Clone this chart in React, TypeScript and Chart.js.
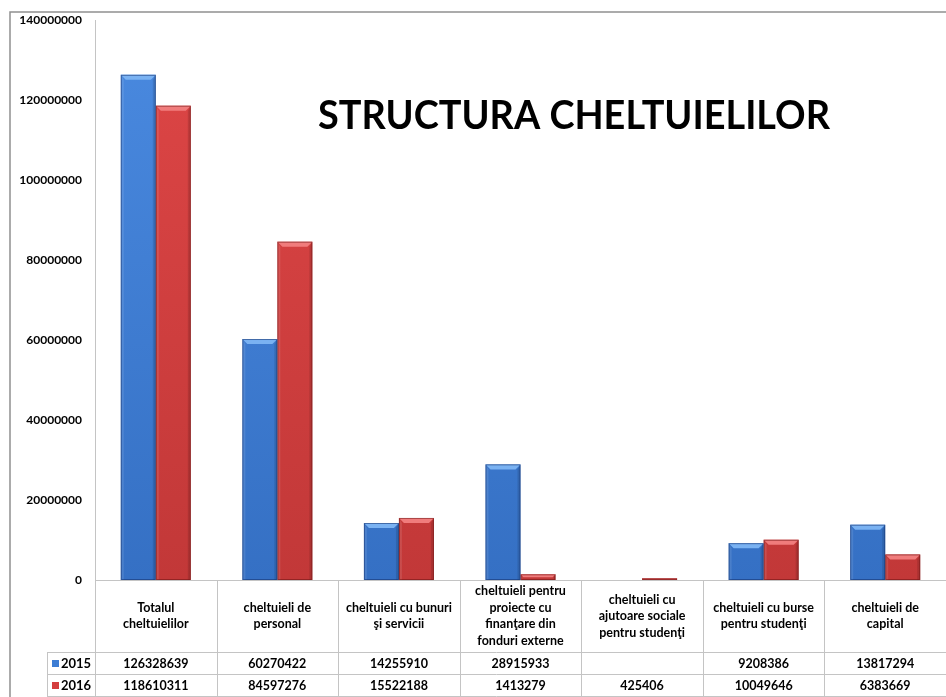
import React, { useEffect, useRef } from "react";
import { Chart, registerables } from "chart.js";

Chart.register(...registerables);

const titleText = "STRUCTURA CHELTUIELILOR";
const seriesNames = ["2015", "2016"];
const categoryLines: string[][] = [
  ["Totalul", "cheltuielilor"],
  ["cheltuieli de", "personal"],
  ["cheltuieli cu bunuri", "şi servicii"],
  ["cheltuieli pentru", "proiecte cu", "finanţare din", "fonduri externe"],
  ["cheltuieli cu", "ajutoare sociale", "pentru studenţi"],
  ["cheltuieli cu burse", "pentru studenţi"],
  ["cheltuieli de", "capital"],
];
const categories = categoryLines.map((l) => l.join(" "));
const values2015: (number | null)[] = [126328639, 60270422, 14255910, 28915933, null, 9208386, 13817294];
const values2016: (number | null)[] = [118610311, 84597276, 15522188, 1413279, 425406, 10049646, 6383669];
const yMax = 140000000;
const yStep = 20000000;

const FONT = "Lato, 'Open Sans', sans-serif";
const colors = [
  { top: "#4a8ae0", bottom: "#3570c4", bevel: "#7ab2f2", edge: "rgba(20,50,110,0.55)", swatch: "#3d7dd4" },
  { top: "#de4646", bottom: "#c23838", bevel: "#f07c7c", edge: "rgba(110,20,20,0.55)", swatch: "#d43e3e" },
];

const bevelPlugin = {
  id: "bevel",
  afterDatasetsDraw(chart: any) {
    const ctx = chart.ctx;
    chart.data.datasets.forEach((ds: any, di: number) => {
      const meta = chart.getDatasetMeta(di);
      const c = colors[di];
      meta.data.forEach((el: any, i: number) => {
        const v = ds.data[i];
        if (v == null) return;
        const p = el.getProps(["x", "y", "base", "width"], true);
        const left = p.x - p.width / 2;
        const right = p.x + p.width / 2;
        const top = p.y;
        const bottom = p.base;
        const h = bottom - top;
        const b = Math.min(5, h / 2);
        ctx.save();
        ctx.fillStyle = c.bevel;
        ctx.beginPath();
        ctx.moveTo(left, top);
        ctx.lineTo(right, top);
        ctx.lineTo(right - b, top + b);
        ctx.lineTo(left + b, top + b);
        ctx.closePath();
        ctx.fill();
        ctx.fillStyle = "rgba(0,0,0,0.12)";
        ctx.beginPath();
        ctx.moveTo(right, top);
        ctx.lineTo(right, bottom);
        ctx.lineTo(right - b * 0.6, bottom);
        ctx.lineTo(right - b * 0.6, top + b);
        ctx.closePath();
        ctx.fill();
        ctx.fillStyle = "rgba(255,255,255,0.10)";
        ctx.beginPath();
        ctx.moveTo(left, top);
        ctx.lineTo(left, bottom);
        ctx.lineTo(left + b * 0.6, bottom);
        ctx.lineTo(left + b * 0.6, top + b);
        ctx.closePath();
        ctx.fill();
        ctx.strokeStyle = c.edge;
        ctx.lineWidth = 1;
        ctx.strokeRect(left + 0.5, top + 0.5, p.width - 1, Math.max(0, h - 1));
        ctx.restore();
      });
    });
  },
};

const tablePlugin = {
  id: "dataTable",
  afterDraw(chart: any) {
    const ctx = chart.ctx;
    const ca = chart.chartArea;
    const n = categories.length;
    const colW = (ca.right - ca.left) / n;
    const headerTop = ca.bottom;
    const headerBottom = headerTop + 72;
    const rowH = 22;
    const legendLeft = 47;
    const lineColor = "#c4c4c4";
    ctx.save();

    ctx.strokeStyle = "#909090";
    ctx.lineWidth = 1.5;
    ctx.beginPath();
    ctx.moveTo(10, chart.height);
    ctx.lineTo(10, 12);
    ctx.lineTo(chart.width, 12);
    ctx.stroke();

    ctx.strokeStyle = lineColor;
    ctx.lineWidth = 1;
    for (let k = 0; k <= n; k++) {
      const x = Math.round(ca.left + k * colW) + 0.5;
      ctx.beginPath();
      ctx.moveTo(x, k === 0 ? ca.top : headerTop);
      ctx.lineTo(x, headerBottom + 2 * rowH);
      ctx.stroke();
    }
    const hl = [headerTop, headerBottom, headerBottom + rowH, headerBottom + 2 * rowH];
    hl.forEach((y, idx) => {
      ctx.beginPath();
      ctx.moveTo(idx === 0 ? ca.left : legendLeft, Math.round(y) + 0.5);
      ctx.lineTo(ca.right, Math.round(y) + 0.5);
      ctx.stroke();
    });
    ctx.beginPath();
    ctx.moveTo(legendLeft + 0.5, headerBottom);
    ctx.lineTo(legendLeft + 0.5, headerBottom + 2 * rowH);
    ctx.stroke();

    ctx.fillStyle = "#000";
    ctx.textAlign = "center";
    ctx.textBaseline = "middle";
    ctx.font = `bold 12.5px ${FONT}`;
    const lh = 16.5;
    categoryLines.forEach((lines, i) => {
      const cx = ca.left + (i + 0.5) * colW;
      const cy = (headerTop + headerBottom) / 2;
      const start = cy - ((lines.length - 1) * lh) / 2;
      lines.forEach((t, j) => ctx.fillText(t, cx, start + j * lh));
    });
    const rows = [values2015, values2016];
    rows.forEach((vals, r) => {
      const cy = headerBottom + r * rowH + rowH / 2 + 1;
      ctx.font = `bold 12.5px ${FONT}`;
      vals.forEach((v, i) => {
        if (v == null) return;
        ctx.fillText(String(v), ca.left + (i + 0.5) * colW, cy);
      });
      ctx.fillStyle = colors[r].swatch;
      ctx.fillRect(52, cy - 4, 7, 7);
      ctx.fillStyle = "#000";
      ctx.textAlign = "left";
      ctx.font = `bold 13px ${FONT}`;
      ctx.fillText(seriesNames[r], 61, cy);
      ctx.textAlign = "center";
    });

    ctx.font = `bold 40px ${FONT}`;
    ctx.textBaseline = "alphabetic";
    ctx.textAlign = "center";
    ctx.fillText(titleText, 574, 129, 512);
    ctx.restore();
  },
};

function makeGradient(chart: any, c: any) {
  const ca = chart.chartArea;
  if (!ca) return c.top;
  const g = chart.ctx.createLinearGradient(0, ca.top, 0, ca.bottom);
  g.addColorStop(0, c.top);
  g.addColorStop(1, c.bottom);
  return g;
}

export default function App() {
  const ref = useRef<HTMLCanvasElement>(null);
  useEffect(() => {
    if (!ref.current) return;
    const chart = new Chart(ref.current, {
      type: "bar",
      data: {
        labels: categories,
        datasets: [
          {
            label: seriesNames[0],
            data: values2015,
            backgroundColor: (c: any) => makeGradient(c.chart, colors[0]),
            borderWidth: 0,
            categoryPercentage: 0.576,
            barPercentage: 1,
          },
          {
            label: seriesNames[1],
            data: values2016,
            backgroundColor: (c: any) => makeGradient(c.chart, colors[1]),
            borderWidth: 0,
            categoryPercentage: 0.576,
            barPercentage: 1,
          },
        ],
      },
      options: {
        responsive: false,
        devicePixelRatio: 1,
        animation: false,
        layout: { padding: { left: 10, top: 20, right: 0, bottom: 117 } },
        plugins: { legend: { display: false }, tooltip: { enabled: false }, title: { display: false } },
        scales: {
          x: { display: false },
          y: {
            min: 0,
            max: yMax,
            afterFit: (s: any) => {
              s.width = 85;
            },
            grid: { display: false, drawTicks: false },
            border: { display: true, color: "#c4c4c4" },
            ticks: {
              stepSize: yStep,
              padding: 13,
              color: "#000",
              font: { family: FONT, size: 12, weight: "bold" },
              callback: (v: any) => String(v),
            },
          },
        },
      },
      plugins: [bevelPlugin, tablePlugin],
    });
    return () => chart.destroy();
  }, []);
  return (
    <div style={{ position: "fixed", left: 0, top: 0, width: 946, height: 697, background: "#fff" }}>
      <canvas ref={ref} width={946} height={697} style={{ display: "block" }} />
    </div>
  );
}
